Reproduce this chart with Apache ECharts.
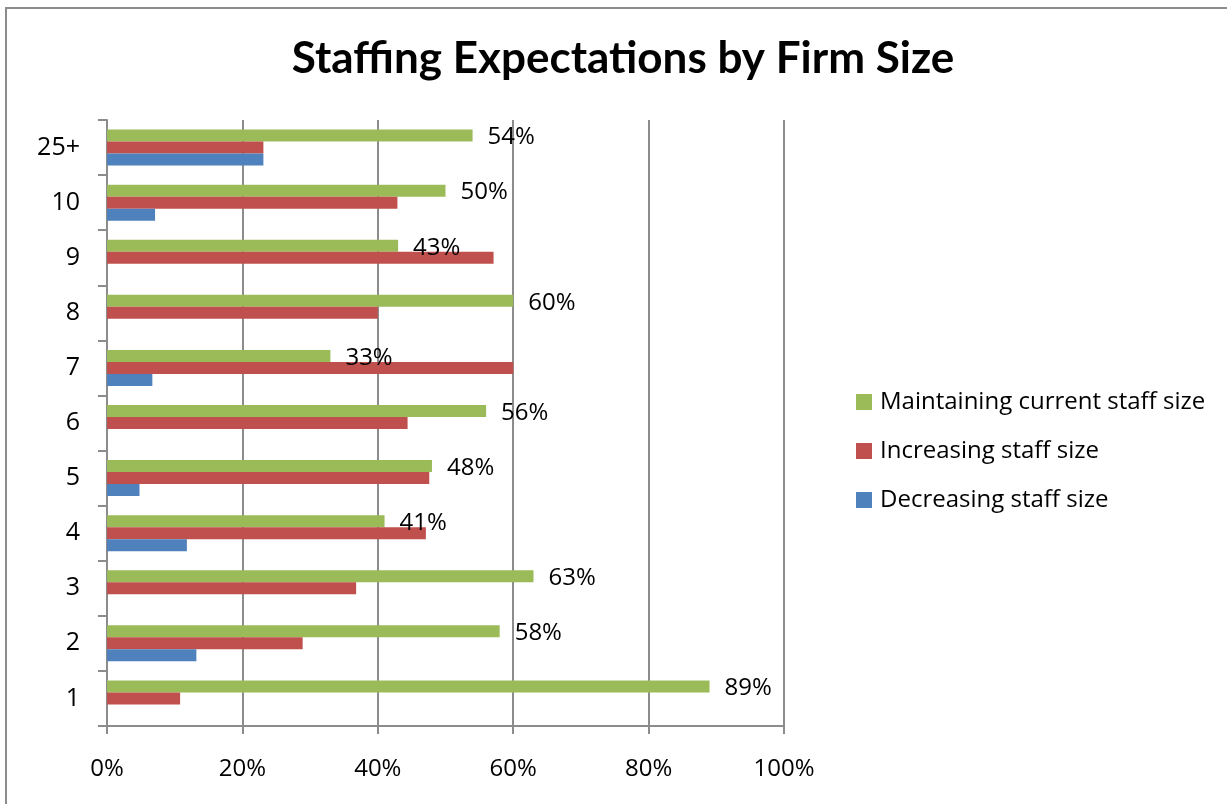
<!DOCTYPE html>
<html>
<head>
<meta charset="utf-8">
<script src="https://cdn.jsdelivr.net/npm/echarts@6/dist/echarts.min.js"></script>
<style>
  html, body { margin: 0; padding: 0; background: #fff; }
  #chart { width: 1227px; height: 804px; }
</style>
</head>
<body>
<div id="chart"></div>
<script>
// Firm size categories (bottom to top)
const categories = ['1', '2', '3', '4', '5', '6', '7', '8', '9', '10', '25+'];
// Share of firms by staffing expectation, in percent
const decreasing  = [0, 13.2, 0, 11.8, 4.8, 0, 6.7, 0, 0, 7.1, 23.1];
const increasing  = [10.8, 28.9, 36.8, 47.1, 47.6, 44.4, 60, 40, 57.1, 42.9, 23.1];
const maintaining = [89, 58, 63, 41, 48, 56, 33, 60, 43, 50, 54];
// Value axis ticks
const xTicks = [0, 20, 40, 60, 80, 100];

const FONT = 'Open Sans';
const GRAY = '#8c8c8c';

const chart = echarts.init(document.getElementById('chart'), null, { renderer: 'canvas' });

chart.setOption({
  animation: false,
  backgroundColor: '#ffffff',
  title: {
    text: 'Staffing Expectations by Firm Size',
    left: 618,
    textAlign: 'center',
    top: 32,
    textStyle: { fontFamily: 'Lato', fontWeight: 'bold', fontSize: 44, color: '#000' }
  },
  graphic: [{
    type: 'rect',
    shape: { x: 6, y: 8, width: 1400, height: 1000 },
    style: { fill: 'none', stroke: GRAY, lineWidth: 2 },
    silent: true
  }],
  legend: {
    orient: 'vertical',
    left: 856,
    top: 390,
    padding: 0,
    itemWidth: 16,
    itemHeight: 16,
    itemGap: 25,
    icon: 'rect',
    data: ['Maintaining current staff size', 'Increasing staff size', 'Decreasing staff size'],
    textStyle: { fontFamily: FONT, fontSize: 24, color: '#000', lineHeight: 24, padding: [0, 0, 0, 3] }
  },
  grid: { left: 107, right: 443, top: 120, bottom: 78, containLabel: false },
  xAxis: {
    type: 'value',
    min: xTicks[0],
    max: xTicks[xTicks.length - 1],
    interval: xTicks[1] - xTicks[0],
    axisLine: { show: true, lineStyle: { color: GRAY, width: 2 } },
    axisTick: { show: true, length: 8, lineStyle: { color: GRAY, width: 2 } },
    splitLine: { show: true, lineStyle: { color: GRAY, width: 2 } },
    axisLabel: {
      margin: 31,
      fontFamily: FONT, fontSize: 24, color: '#000',
      formatter: v => v + '%'
    }
  },
  yAxis: {
    type: 'category',
    data: categories,
    axisLine: { show: true, lineStyle: { color: GRAY, width: 2 } },
    axisTick: { show: true, length: 9, lineStyle: { color: GRAY, width: 2 } },
    axisLabel: { margin: 27, fontFamily: FONT, fontSize: 25, color: '#000' }
  },
  // Within each group the first series sits on top
  series: [
    {
      name: 'Maintaining current staff size',
      type: 'bar',
      data: maintaining,
      barWidth: 12,
      barGap: '0%',
      itemStyle: { color: '#9BBB59' },
      label: {
        show: true,
        position: 'right',
        distance: 15,
        offset: [0, 2],
        fontFamily: FONT,
        fontSize: 24,
        color: '#000',
        formatter: p => Math.round(p.value) + '%'
      }
    },
    {
      name: 'Increasing staff size',
      type: 'bar',
      data: increasing,
      barWidth: 12,
      barGap: '0%',
      itemStyle: { color: '#C0504D' }
    },
    {
      name: 'Decreasing staff size',
      type: 'bar',
      data: decreasing,
      barWidth: 12,
      barGap: '0%',
      itemStyle: { color: '#4F81BD' }
    }
  ]
});
</script>
</body>
</html>
